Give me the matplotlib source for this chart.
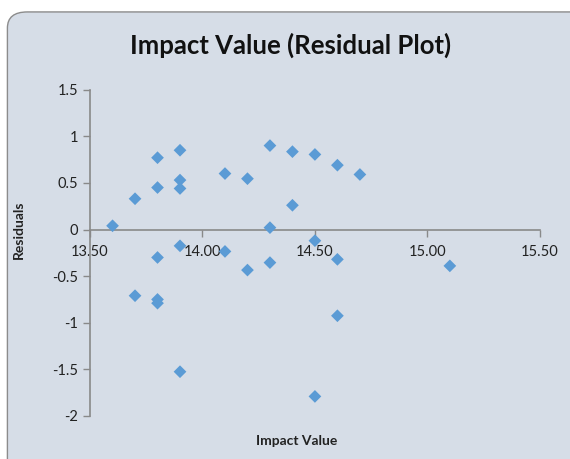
import matplotlib.pyplot as plt
from matplotlib.patches import FancyBboxPatch

impact = [13.6, 13.7, 13.7, 13.8, 13.8, 13.8, 13.8, 13.8,
          13.9, 13.9, 13.9, 13.9, 13.9, 14.1, 14.1, 14.2, 14.2,
          14.3, 14.3, 14.3, 14.4, 14.4, 14.5, 14.5, 14.5,
          14.6, 14.6, 14.6, 14.7, 15.1]
residuals = [0.04, 0.33, -0.71, 0.77, 0.45, -0.30, -0.75, -0.79,
             0.85, 0.53, 0.44, -0.175, -1.525, 0.60, -0.235, 0.545, -0.435,
             0.90, 0.02, -0.355, 0.835, 0.26, 0.805, -0.12, -1.79,
             0.69, -0.32, -0.925, 0.59, -0.39]
xticks = [13.5, 14.0, 14.5, 15.0, 15.5]
yticks = [1.5, 1, 0.5, 0, -0.5, -1, -1.5, -2]

bg = '#D6DDE7'
axcol = '#898989'
plt.rcParams['font.family'] = ['Lato', 'DejaVu Sans']

fig = plt.figure(figsize=(5.7, 4.59), dpi=100)
fig.patch.set_facecolor('white')
box = FancyBboxPatch((0.013, -0.05), 1.05, 1.024,
                     boxstyle='round,pad=0,rounding_size=0.035',
                     transform=fig.transFigure, facecolor=bg,
                     edgecolor='#8C8C8C', linewidth=1.0, zorder=-5)
fig.patches.append(box)

ax = fig.add_axes([0.158, 0.0937, 0.789, 0.711])
ax.set_zorder(2)
ax.set_facecolor('none')
ax.scatter(impact, residuals, marker='D', s=42, color='#5B9BD5',
           edgecolors='none', zorder=3)

ax.set_xlim(13.5, 15.5)
ax.set_ylim(-2, 1.5)
ax.spines['bottom'].set_position(('data', 0))
ax.spines['top'].set_visible(False)
ax.spines['right'].set_visible(False)
for s in ['left', 'bottom']:
    ax.spines[s].set_color(axcol)
    ax.spines[s].set_linewidth(1.2)

ax.set_xticks(xticks)
ax.set_xticklabels(['%.2f' % v for v in xticks])
ax.set_yticks(yticks)
ax.set_yticklabels(['%g' % v for v in yticks])
ax.tick_params(colors=axcol, labelcolor='#222222', labelsize=10.5,
               length=5, width=1.0, direction='out')
ax.tick_params(axis='x', pad=6)

fig.text(0.51, 0.902, 'Impact Value (Residual Plot)', ha='center', va='center',
         fontsize=18.5, fontweight='bold', color='#111111')
fig.text(0.52, 0.04, 'Impact Value', ha='center', va='center',
         fontsize=10, fontweight='bold', color='#222222')
fig.text(0.033, 0.5, 'Residuals', ha='center', va='center', rotation=90,
         fontsize=10, fontweight='bold', color='#222222')

plt.savefig('out.png', dpi=100, facecolor='white')
